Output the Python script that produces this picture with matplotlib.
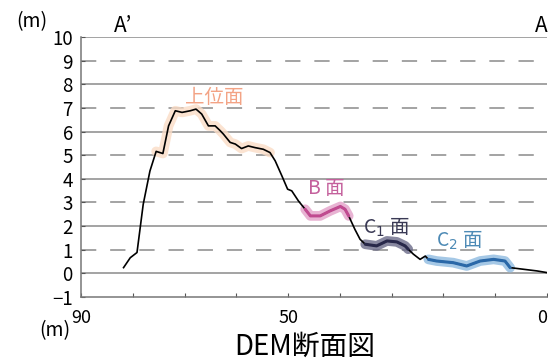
import numpy as np
import matplotlib
matplotlib.use("Agg")
import matplotlib.pyplot as plt

plt.rcParams['font.family'] = ['Noto Sans CJK JP', 'DejaVu Sans']
plt.rcParams['lines.scale_dashes'] = False

# profile: distance (m) and elevation (m)
dist = [81.8, 80.5, 79.2, 78.0, 76.7, 75.5, 74.2, 73.1, 71.8, 70.5, 68.9, 67.8,
        66.7, 65.4, 64.1, 63.1, 62.5, 61.2, 60.2, 59.0, 57.7, 56.4, 54.8, 53.5,
        52.5, 51.2, 50.1, 49.3, 48.0, 46.7, 45.7, 43.8, 41.9, 39.9, 39.0, 38.3,
        37.1, 36.1, 35.1, 32.9, 30.9, 29.0, 27.4, 26.8, 25.8, 24.5, 23.5, 22.9,
        21.3, 18.1, 15.5, 12.9, 10.3, 8.1, 7.1, 4.5, 1.9, 0.0]
elev = [0.24, 0.66, 0.88, 2.92, 4.33, 5.16, 5.07, 6.24, 6.88, 6.81, 6.88, 6.95,
        6.74, 6.24, 6.24, 6.03, 5.89, 5.54, 5.47, 5.28, 5.39, 5.32, 5.25, 5.11,
        4.76, 4.12, 3.56, 3.49, 3.06, 2.71, 2.43, 2.43, 2.64, 2.83, 2.71, 2.43,
        1.86, 1.44, 1.23, 1.16, 1.37, 1.33, 1.16, 1.02, 0.81, 0.59, 0.73, 0.59,
        0.52, 0.45, 0.31, 0.52, 0.59, 0.52, 0.24, 0.17, 0.10, 0.03]

# surfaces: name, distance range, label position
surf_names = ["上位面", "B 面", "C$_1$ 面", "C$_2$ 面"]
surf_ranges = [(75.5, 53.5), (46.7, 38.3), (35.1, 26.8), (22.9, 7.1)]
surf_label_x = [64.2, 42.6, 31.0, 17.0]
surf_label_y = [7.45, 3.6, 1.95, 1.4]
surf_colors = ["#f3a385", "#c4609c", "#3a3a55", "#4d8ab5"]
halo_colors = ["#fadcc6", "#e3a0c8", "#6a6a88", "#8fbbe0"]
line_colors = [None, "#c04a90", "#28284a", "#2a68a8"]

yticks = list(range(-1, 11))

fig = plt.figure(figsize=(5.48, 3.63), dpi=100)
ax = fig.add_axes([0.148, 0.182, 0.85, 0.716])

for y in range(0, 11):
    if y % 2 == 0:
        ax.axhline(y, color="#8a8a8a", lw=1.1, zorder=1)
    else:
        ax.axhline(y, color="#8a8a8a", lw=1.1, ls=(0, (11, 10)), zorder=1)

d = np.array(dist)
e = np.array(elev)
for i, (a, b) in enumerate(surf_ranges):
    m = (d <= a) & (d >= b)
    ax.plot(d[m], e[m], color=halo_colors[i], lw=7, alpha=0.8,
            solid_capstyle="round", zorder=2)

ax.plot(d, e, color="black", lw=1.2, zorder=3)

for i, (a, b) in enumerate(surf_ranges):
    if line_colors[i] is None:
        continue
    m = (d <= a) & (d >= b)
    ax.plot(d[m], e[m], color=line_colors[i], lw=2.2, zorder=4,
            solid_capstyle="round")

for i in range(len(surf_names)):
    ax.text(surf_label_x[i], surf_label_y[i], surf_names[i], color=surf_colors[i],
            fontsize=14, ha="center", va="center", zorder=5)

ax.set_xlim(90, 0)
ax.set_ylim(-1, 10)
ax.set_yticks(yticks)
ax.set_yticklabels([str(v).replace("-", "\u2212") for v in yticks])
ax.set_xticks(range(90, -1, -10))
ax.set_xticklabels(["90", "", "", "", "50", "", "", "", "", "0"])
ax.tick_params(axis="x", direction="in", length=3, labelsize=13, pad=9, color="#555")
ax.tick_params(axis="y", direction="in", length=3, labelsize=13.5, pad=6, color="#555")
ax.get_xticklabels()[-1].set_horizontalalignment("right")
for s in ["top", "right"]:
    ax.spines[s].set_visible(False)
ax.spines["left"].set_color("#777")
ax.spines["bottom"].set_color("#777")
ax.spines["left"].set_linewidth(1.1)
ax.spines["bottom"].set_linewidth(1.1)

fig.text(0.058, 0.94, "(m)", fontsize=14, ha="center", va="center")
fig.text(0.225, 0.928, "A\u2019", fontsize=15, ha="center", va="center")
fig.text(0.999, 0.928, "A", fontsize=15, ha="right", va="center")
fig.text(0.1, 0.09, "(m)", fontsize=14, ha="center", va="center")
fig.text(0.557, 0.045, "DEM断面図", fontsize=20, ha="center", va="center")

fig.savefig("out.png", dpi=100)
